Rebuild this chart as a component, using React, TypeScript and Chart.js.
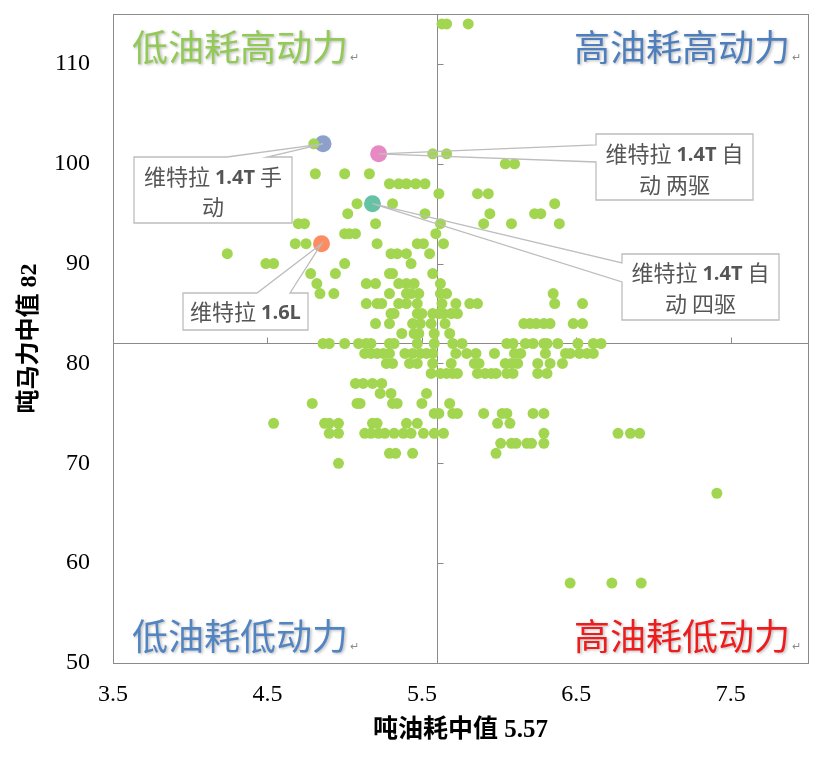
import React, { useEffect, useRef } from 'react';
import { Chart, registerables } from 'chart.js';

Chart.register(...registerables);

// ---------- data ----------
const xTickValues = [3.5, 4.5, 5.5, 6.5, 7.5];
const yTickValues = [50, 60, 70, 80, 90, 100, 110];
const xMin = 3.5;
const xMax = 8;
const yMin = 50;
const yMax = 115;

const xTitle = '吨油耗中值 5.57';
const yTitle = '吨马力中值 82';

// position of the drawn median crossing lines
const fuelMedianLine = 5.6;
const powerMedianLine = 82;

// 吨马力 levels and the 吨油耗 values of the models at each level
const powerLevels = [114, 102, 101, 100, 99, 98, 97, 96, 95, 94, 93, 92, 91, 90, 89, 88, 87, 86, 85, 84, 83, 82, 81, 80, 79, 78, 77, 76, 75, 74, 73, 72, 71, 70, 67, 58];
const fuelByLevel = [
  [5.63, 5.66, 5.8],
  [4.8],
  [5.57, 5.66],
  [6.04, 6.1],
  [4.81, 5.0, 5.16],
  [5.29, 5.35, 5.4, 5.46, 5.52],
  [5.61, 5.86, 5.93],
  [5.08, 5.31, 6.36],
  [5.02, 5.52, 5.94, 6.23, 6.27],
  [4.7, 4.74, 5.2, 5.62, 5.9, 6.08, 6.39],
  [5.0, 5.03, 5.07, 5.59],
  [4.68, 4.75, 5.21, 5.47, 5.51, 5.64],
  [4.24, 5.3, 5.34, 5.4, 5.55],
  [4.49, 4.54, 5.0, 5.43],
  [4.78, 4.94, 5.29, 5.31, 5.57],
  [4.82, 5.14, 5.2, 5.35, 5.4, 5.45, 5.62],
  [4.84, 4.93, 5.29, 5.4, 5.43, 5.48, 5.62, 5.66, 6.35],
  [5.14, 5.21, 5.24, 5.35, 5.4, 5.47, 5.63, 5.72, 5.81, 5.86, 6.36, 6.54],
  [5.3, 5.32, 5.47, 5.5, 5.57, 5.61, 5.64, 5.69, 5.73],
  [5.2, 5.29, 5.44, 5.49, 5.56, 5.65, 6.16, 6.2, 6.24, 6.29, 6.33, 6.48, 6.54],
  [5.37, 5.45, 5.48, 5.58, 5.68],
  [4.86, 4.9, 5.0, 5.09, 5.14, 5.17, 5.29, 5.32, 5.47, 5.58, 5.7, 5.76, 6.05, 6.09, 6.17, 6.22, 6.29, 6.31, 6.38, 6.51, 6.61, 6.66],
  [5.13, 5.17, 5.21, 5.25, 5.29, 5.39, 5.44, 5.49, 5.53, 5.57, 5.72, 5.79, 5.85, 5.97, 6.1, 6.14, 6.3, 6.43, 6.46, 6.52, 6.57, 6.61],
  [5.27, 5.31, 5.42, 5.47, 5.57, 5.69, 5.84, 5.87, 6.04, 6.08, 6.12, 6.25, 6.33, 6.41],
  [5.56, 5.62, 5.66, 5.7, 5.73, 5.86, 5.91, 5.95, 5.98, 6.05, 6.09, 6.25, 6.31],
  [5.07, 5.12, 5.18, 5.24],
  [5.23, 5.3, 5.53],
  [4.79, 5.08, 5.1, 5.31, 5.34, 5.5, 5.68],
  [5.58, 5.61, 5.7, 5.73, 5.9, 6.02, 6.05, 6.22, 6.29],
  [4.54, 4.87, 4.9, 4.96, 5.18, 5.21, 5.4, 5.47, 5.99, 6.07],
  [4.9, 4.96, 5.13, 5.17, 5.22, 5.26, 5.32, 5.38, 5.43, 5.51, 5.58, 5.64, 6.29, 6.77, 6.85, 6.91],
  [6.01, 6.08, 6.11, 6.18, 6.21, 6.29],
  [5.29, 5.33, 5.44, 5.98],
  [4.96],
  [7.41],
  [6.46, 6.73, 6.92],
];

// highlighted models
const highlightNames = ['维特拉 1.4T 手动', '维特拉 1.4T 自动两驱', '维特拉 1.4T 自动四驱', '维特拉 1.6L'];
const highlightFuel = [4.86, 5.22, 5.18, 4.85];
const highlightPower = [102, 101, 96, 92];
const highlightColors = ['#8DA0CB', '#E78AC3', '#66C2A5', '#FC8D62'];

const quadrantLabels = ['低油耗高动力', '高油耗高动力', '低油耗低动力', '高油耗低动力'];
const quadrantColors = ['#92C957', '#4F7EBD', '#5384C2', '#EE1C1C'];

// callout texts: lines of [text, bold] runs
type Run = [string, boolean];
const calloutLines: Run[][][] = [
  [[['维特拉 ', false], ['1.4T', true], [' 手', false]], [['动', false]]],
  [[['维特拉 ', false], ['1.4T', true], [' 自', false]], [['动 两驱', false]]],
  [[['维特拉 ', false], ['1.4T', true], [' 自', false]], [['动 四驱', false]]],
  [[['维特拉 ', false], ['1.6L', true]]],
];

// ---------- styling / layout ----------
const GREEN = '#A3D650';
const AXIS_GREY = '#8A8A8A';
const SERIF = '"Liberation Serif", "Times New Roman", "Noto Sans CJK SC", serif';
const CJK = '"Noto Sans CJK SC", sans-serif';
const BOLD_LATIN = '"Open Sans", "Liberation Sans", sans-serif';

// callout boxes (pixel layout), base edge side and base coordinates
type Box = { x: number; y: number; w: number; h: number; side: 'top' | 'left'; b1: number; b2: number; lineYs: number[] };
const calloutBoxes: Box[] = [
  { x: 134, y: 157, w: 158, h: 66, side: 'top', b1: 227, b2: 267, lineYs: [177, 207] },
  { x: 596, y: 134, w: 157, h: 66, side: 'left', b1: 145, b2: 162, lineYs: [154, 185] },
  { x: 622, y: 254, w: 157, h: 66, side: 'left', b1: 263, b2: 282, lineYs: [273, 304] },
  { x: 183, y: 293, w: 125, h: 37, side: 'top', b1: 257, b2: 290, lineYs: [312] },
];

function drawRuns(ctx: CanvasRenderingContext2D, runs: Run[], cx: number, cy: number) {
  const fonts = runs.map(([, b]) => (b ? `bold 20px ${BOLD_LATIN}` : `22px ${CJK}`));
  const widths = runs.map(([t], i) => {
    ctx.font = fonts[i];
    return ctx.measureText(t).width;
  });
  const total = widths.reduce((a, b) => a + b, 0);
  let x = cx - total / 2;
  ctx.textAlign = 'left';
  ctx.textBaseline = 'middle';
  runs.forEach(([t], i) => {
    ctx.font = fonts[i];
    ctx.fillText(t, x, cy + (runs[i][1] ? 1 : 0));
    x += widths[i];
  });
}

const decorPlugin = {
  id: 'decor',
  beforeDatasetsDraw(chart: any) {
    const { ctx, chartArea: ca, scales } = chart;
    const xs = scales.x;
    const ys = scales.y;
    ctx.save();
    ctx.strokeStyle = AXIS_GREY;
    ctx.lineWidth = 1;
    // plot border
    ctx.strokeRect(Math.round(ca.left) + 0.5, Math.round(ca.top) + 0.5, Math.round(ca.right - ca.left), Math.round(ca.bottom - ca.top));
    // median lines
    const vx = Math.round(xs.getPixelForValue(fuelMedianLine)) + 0.5;
    const hy = Math.round(ys.getPixelForValue(powerMedianLine)) + 0.5;
    ctx.beginPath();
    ctx.moveTo(vx, ca.top);
    ctx.lineTo(vx, ca.bottom);
    ctx.moveTo(ca.left, hy);
    ctx.lineTo(ca.right, hy);
    // tick marks on the crossing lines
    yTickValues.forEach((v) => {
      const py = Math.round(ys.getPixelForValue(v)) + 0.5;
      ctx.moveTo(vx, py);
      ctx.lineTo(vx + 6, py);
    });
    xTickValues.forEach((v) => {
      const px = Math.round(xs.getPixelForValue(v)) + 0.5;
      ctx.moveTo(px, hy);
      ctx.lineTo(px, hy - 6);
    });
    ctx.stroke();

    // quadrant labels
    ctx.font = `36px ${CJK}`;
    ctx.textBaseline = 'middle';
    const pos = [
      { x: ca.left + 19, y: ca.top + 33, align: 'left' },
      { x: ca.right - 18, y: ca.top + 33, align: 'right' },
      { x: ca.left + 19, y: ca.bottom - 27, align: 'left' },
      { x: ca.right - 18, y: ca.bottom - 27, align: 'right' },
    ];
    quadrantLabels.forEach((t, i) => {
      const p = pos[i];
      ctx.save();
      ctx.font = `36px ${CJK}`;
      ctx.textAlign = p.align as CanvasTextAlign;
      ctx.shadowColor = 'rgba(0,0,0,0.28)';
      ctx.shadowBlur = 3;
      ctx.shadowOffsetX = 1.5;
      ctx.shadowOffsetY = 1.5;
      ctx.fillStyle = quadrantColors[i];
      ctx.fillText(t, p.x, p.y);
      ctx.restore();
      const w = ctx.measureText(t).width;
      const endX = p.align === 'left' ? p.x + w : p.x;
      ctx.font = `11px ${CJK}`;
      ctx.fillStyle = '#8C8C8C';
      ctx.textAlign = 'left';
      ctx.fillText('↵', endX + 2, p.y + 10);
      ctx.font = `36px ${CJK}`;
    });
    ctx.restore();
  },
  afterDatasetsDraw(chart: any) {
    const { ctx, scales } = chart;
    const xs = scales.x;
    const ys = scales.y;
    ctx.save();
    calloutBoxes.forEach((b, i) => {
      const tx = xs.getPixelForValue(highlightFuel[i]);
      const ty = ys.getPixelForValue(highlightPower[i]);
      ctx.fillStyle = '#FFFFFF';
      ctx.fillRect(b.x, b.y, b.w, b.h);
      ctx.strokeStyle = '#BDBDBD';
      ctx.lineWidth = 1.3;
      ctx.beginPath();
      if (b.side === 'top') {
        ctx.moveTo(b.x, b.y);
        ctx.lineTo(b.b1, b.y);
        ctx.lineTo(tx, ty);
        ctx.lineTo(b.b2, b.y);
        ctx.lineTo(b.x + b.w, b.y);
        ctx.lineTo(b.x + b.w, b.y + b.h);
        ctx.lineTo(b.x, b.y + b.h);
        ctx.closePath();
      } else {
        ctx.moveTo(b.x, b.y);
        ctx.lineTo(b.x + b.w, b.y);
        ctx.lineTo(b.x + b.w, b.y + b.h);
        ctx.lineTo(b.x, b.y + b.h);
        ctx.lineTo(b.x, b.b2);
        ctx.lineTo(tx, ty);
        ctx.lineTo(b.x, b.b1);
        ctx.closePath();
      }
      ctx.stroke();
      ctx.fillStyle = '#555555';
      calloutLines[i].forEach((runs, li) => {
        drawRuns(ctx, runs, b.x + b.w / 2, b.lineYs[li]);
      });
    });
    ctx.restore();
  },
};

export default function App() {
  const canvasRef = useRef<HTMLCanvasElement | null>(null);

  useEffect(() => {
    const canvas = canvasRef.current;
    if (!canvas) return;

    const greenPoints: { x: number; y: number }[] = [];
    powerLevels.forEach((p, i) => {
      fuelByLevel[i].forEach((f) => greenPoints.push({ x: f, y: p }));
    });

    const datasets: any[] = [
      {
        label: '车型',
        data: greenPoints,
        pointRadius: 5.5,
        pointBackgroundColor: GREEN,
        pointBorderWidth: 0,
        borderWidth: 0,
      },
      ...highlightNames.map((name, i) => ({
        label: name,
        data: [{ x: highlightFuel[i], y: highlightPower[i] }],
        pointRadius: 8.5,
        pointBackgroundColor: highlightColors[i],
        pointBorderWidth: 0,
        borderWidth: 0,
      })),
    ];

    const chart = new Chart(canvas, {
      type: 'scatter',
      data: { datasets },
      options: {
        animation: false,
        responsive: false,
        layout: { padding: { left: 0, top: 14, right: 22, bottom: 0 } },
        plugins: { legend: { display: false }, tooltip: { enabled: false } },
        scales: {
          x: {
            type: 'linear',
            position: 'bottom',
            min: xMin,
            max: xMax,
            grid: { display: false, drawTicks: false },
            border: { display: false },
            afterBuildTicks: (s: any) => {
              s.ticks = xTickValues.map((v) => ({ value: v }));
            },
            afterFit: (s: any) => {
              s.height = 95;
              s.paddingLeft = 0;
              s.paddingRight = 0;
            },
            ticks: {
              font: { family: SERIF, size: 24 },
              color: '#000000',
              padding: 17,
              maxRotation: 0,
              autoSkip: false,
            },
            title: {
              display: true,
              text: xTitle,
              font: { family: SERIF, size: 25, weight: 'bold' },
              color: '#000000',
              padding: { top: 0, bottom: 12 },
            },
          },
          y: {
            type: 'linear',
            position: 'left',
            min: yMin,
            max: yMax,
            grid: { display: false, drawTicks: false },
            border: { display: false },
            afterBuildTicks: (s: any) => {
              s.ticks = yTickValues.map((v) => ({ value: v }));
            },
            afterFit: (s: any) => {
              s.width = 113;
              s.paddingTop = 0;
              s.paddingBottom = 0;
            },
            ticks: {
              font: { family: SERIF, size: 24 },
              color: '#000000',
              padding: 23,
              autoSkip: false,
            },
            title: {
              display: true,
              text: yTitle,
              font: { family: SERIF, size: 24, weight: 'bold' },
              color: '#000000',
              padding: { top: 15, bottom: 0 },
            },
          },
        },
      } as any,
      plugins: [decorPlugin],
    });

    return () => {
      chart.destroy();
    };
  }, []);

  return (
    <div style={{ position: 'absolute', left: 0, top: 0, width: 830, height: 758, background: '#ffffff' }}>
      <canvas ref={canvasRef} width={830} height={758} style={{ display: 'block', width: 830, height: 758 }} />
    </div>
  );
}
